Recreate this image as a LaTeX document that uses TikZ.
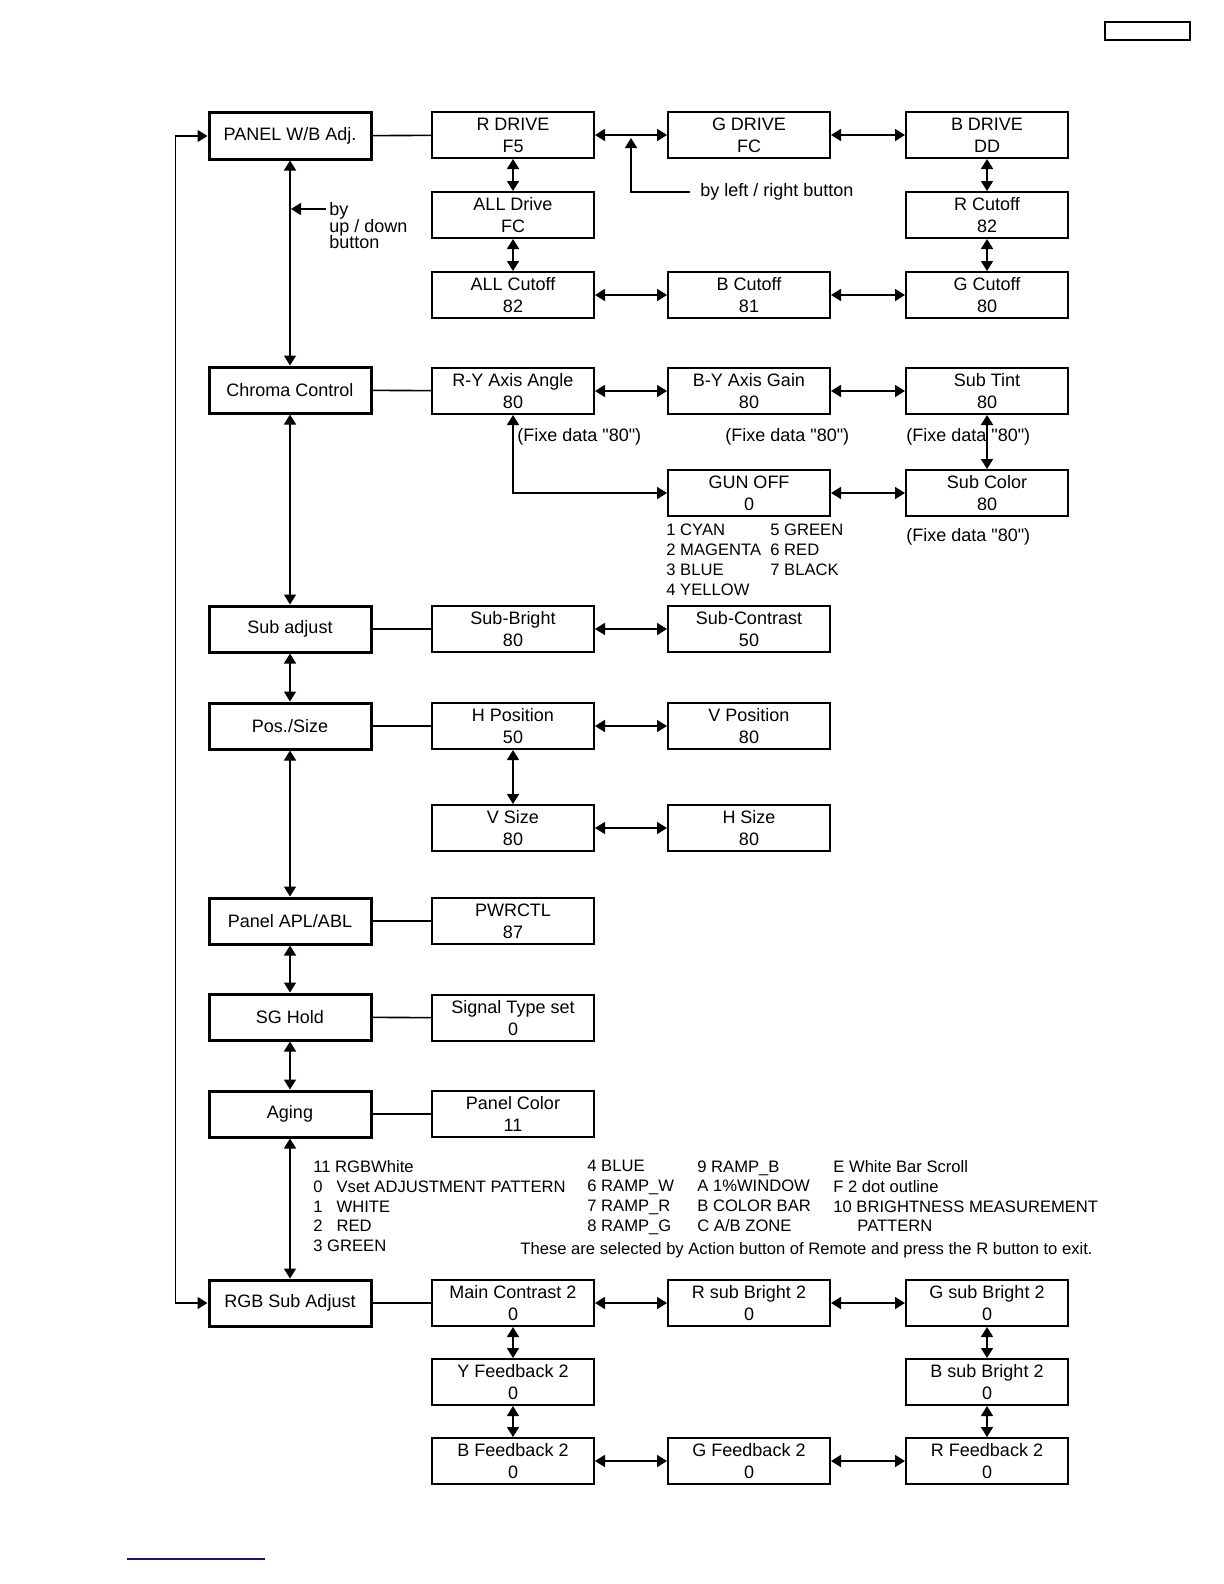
\documentclass[tikz,border=0pt]{standalone}
\usepackage{fontspec}
\setmainfont{Liberation Sans}
\usetikzlibrary{arrows.meta}
\definecolor{rulenavy}{RGB}{25,20,130}

\begin{document}
\begin{tikzpicture}[x=0.5pt,y=-0.5pt,
    mainbox/.style={draw,line width=1.5pt,minimum width=81pt,minimum height=23pt,inner sep=0pt,font=\fontsize{9}{11}\selectfont},
    subbox/.style={draw,line width=1pt,minimum width=81pt,minimum height=23pt,inner sep=0pt,align=center,font=\fontsize{9}{11}\selectfont},
    link/.style={line width=0.8pt},
    twoway/.style={line width=0.8pt,{Triangle[length=5pt,width=6pt]}-{Triangle[length=5pt,width=6pt]}},
    oneway/.style={line width=0.8pt,-{Triangle[length=5pt,width=6pt]}},
    note/.style={inner sep=0pt,align=left,font=\fontsize{8.3}{9.9}\selectfont},
    fixe/.style={inner sep=0pt,anchor=west,font=\fontsize{9}{11}\selectfont}]
    \useasboundingbox (0,0) rectangle (1224,1584);

    % Page marks
    \draw[line width=1pt] (1105,22) rectangle (1190,40);
    \draw[rulenavy,line width=1pt] (127,1559) -- (265,1559);

    % Main menu column
    \node[mainbox] (pwb) at (290,136) {PANEL W/B Adj.};
    \node[mainbox] (chroma) at (290,390) {Chroma Control};
    \node[mainbox] (subadj) at (290,629) {Sub adjust};
    \node[mainbox] (pos) at (290,726) {Pos./Size};
    \node[mainbox] (apl) at (290,921) {Panel APL/ABL};
    \node[mainbox] (sg) at (290,1017) {SG Hold};
    \node[mainbox] (aging) at (290,1114) {Aging};
    \node[mainbox] (rgb) at (290,1303) {RGB Sub Adjust};

    \draw[twoway] (pwb) -- (chroma);
    \draw[twoway] (chroma) -- (subadj);
    \draw[twoway] (subadj) -- (pos);
    \draw[twoway] (pos) -- (apl);
    \draw[twoway] (apl) -- (sg);
    \draw[twoway] (sg) -- (aging);
    \draw[twoway] (aging) -- (rgb);
    \draw[twoway] (pwb.west) -- ++(-32,0) |- (rgb.west);

    % up / down note
    \node[note,font={\fontsize{9}{8.3}\selectfont\lineskiplimit=-5pt},anchor=north west] (udnote) at (329,202) {by\\up / down\\button};
    \coordinate (udtail) at (326,209);
    \coordinate (udtip) at (291,209);
    \draw[oneway] (udtail) -- (udtip);

    % PANEL W/B Adj.
    \node[subbox] (rdrive) at (513,135) {R DRIVE\\F5};
    \node[subbox] (gdrive) at (749,135) {G DRIVE\\FC};
    \node[subbox] (bdrive) at (987,135) {B DRIVE\\DD};
    \node[subbox] (alldrive) at (513,215) {ALL Drive\\FC};
    \node[subbox] (rcut) at (987,215) {R Cutoff\\82};
    \node[subbox] (allcut) at (513,295) {ALL Cutoff\\82};
    \node[subbox] (bcut) at (749,295) {B Cutoff\\81};
    \node[subbox] (gcut) at (987,295) {G Cutoff\\80};

    \draw[link] (pwb) -- (rdrive);
    \draw[twoway] (rdrive) -- (gdrive);
    \draw[twoway] (gdrive) -- (bdrive);
    \draw[twoway] (rdrive) -- (alldrive);
    \draw[twoway] (alldrive) -- (allcut);
    \draw[twoway] (bdrive) -- (rcut);
    \draw[twoway] (rcut) -- (gcut);
    \draw[twoway] (allcut) -- (bcut);
    \draw[twoway] (bcut) -- (gcut);

    \node[fixe] (lrnote) at (700,192) {by left / right button};
    \coordinate (lrtip) at (631,138);
    \draw[oneway] ([xshift=-5pt]lrnote.west) -| (lrtip);

    % Chroma Control
    \node[subbox] (ry) at (513,391) {R-Y Axis Angle\\80};
    \node[subbox] (by) at (749,391) {B-Y Axis Gain\\80};
    \node[subbox] (tint) at (987,391) {Sub Tint\\80};
    \node[subbox] (gun) at (749,493) {GUN OFF\\0};
    \node[subbox] (subcol) at (987,493) {Sub Color\\80};

    \node[fixe] (fixry) at (517,437) {(Fixe data \textquotedbl 80\textquotedbl)};
    \node[fixe] (fixby) at (725,437) {(Fixe data \textquotedbl 80\textquotedbl)};
    \node[fixe] (fixtint) at (906,437) {(Fixe data \textquotedbl 80\textquotedbl)};
    \node[fixe] (fixcol) at (906,537) {(Fixe data \textquotedbl 80\textquotedbl)};

    \draw[link] (chroma) -- (ry);
    \draw[twoway] (ry) -- (by);
    \draw[twoway] (by) -- (tint);
    \draw[twoway] (tint) -- (subcol);
    \draw[twoway] (gun) -- (subcol);
    \draw[twoway] (ry.south) |- (gun.west);

    \node[note,anchor=north west] (gunlist) at (666,524) {1 CYAN\\2 MAGENTA\\3 BLUE\\4 YELLOW};
    \node[note,anchor=north west] (gunlistb) at (770,524) {5 GREEN\\6 RED\\7 BLACK};

    % Sub adjust
    \node[subbox] (bright) at (513,629) {Sub-Bright\\80};
    \node[subbox] (contrast) at (749,629) {Sub-Contrast\\50};
    \draw[link] (subadj) -- (bright);
    \draw[twoway] (bright) -- (contrast);

    % Pos./Size
    \node[subbox] (hpos) at (513,726) {H Position\\50};
    \node[subbox] (vpos) at (749,726) {V Position\\80};
    \node[subbox] (vsize) at (513,828) {V Size\\80};
    \node[subbox] (hsize) at (749,828) {H Size\\80};
    \draw[link] (pos) -- (hpos);
    \draw[twoway] (hpos) -- (vpos);
    \draw[twoway] (hpos) -- (vsize);
    \draw[twoway] (vsize) -- (hsize);

    % Panel APL/ABL, SG Hold, Aging
    \node[subbox] (pwrctl) at (513,921) {PWRCTL\\87};
    \node[subbox] (sigtype) at (513,1018) {Signal Type set\\0};
    \node[subbox] (pcolor) at (513,1114) {Panel Color\\11};
    \draw[link] (apl) -- (pwrctl);
    \draw[link] (sg) -- (sigtype);
    \draw[link] (aging) -- (pcolor);

    \node[note,anchor=north west] (patta) at (313,1160) {11 RGBWhite\\0\hspace{7pt}Vset ADJUSTMENT PATTERN\\1\hspace{7pt}WHITE\\2\hspace{7pt}RED\\3 GREEN};
    \node[note,anchor=north west] (pattb) at (587,1160) {4 BLUE\\6 RAMP\_W\\7 RAMP\_R\\8 RAMP\_G};
    \node[note,anchor=north west] (pattc) at (697,1160) {9 RAMP\_B\\A 1\%WINDOW\\B COLOR BAR\\C A/B ZONE};
    \node[note,anchor=north west] (pattd) at (833,1160) {E White Bar Scroll\\F 2 dot outline\\10 BRIGHTNESS MEASUREMENT\\\hspace{12pt}PATTERN};
    \node[note,anchor=east] (pattexit) at (1093,1250) {These are selected by Action button of Remote and press the R button to exit.};

    % RGB Sub Adjust
    \node[subbox] (mainc) at (513,1303) {Main Contrast 2\\0};
    \node[subbox] (rsb) at (749,1303) {R sub Bright 2\\0};
    \node[subbox] (gsb) at (987,1303) {G sub Bright 2\\0};
    \node[subbox] (yfb) at (513,1382) {Y Feedback 2\\0};
    \node[subbox] (bsb) at (987,1382) {B sub Bright 2\\0};
    \node[subbox] (bfb) at (513,1461) {B Feedback 2\\0};
    \node[subbox] (gfb) at (749,1461) {G Feedback 2\\0};
    \node[subbox] (rfb) at (987,1461) {R Feedback 2\\0};

    \draw[link] (rgb) -- (mainc);
    \draw[twoway] (mainc) -- (rsb);
    \draw[twoway] (rsb) -- (gsb);
    \draw[twoway] (gsb) -- (bsb);
    \draw[twoway] (bsb) -- (rfb);
    \draw[twoway] (mainc) -- (yfb);
    \draw[twoway] (yfb) -- (bfb);
    \draw[twoway] (bfb) -- (gfb);
    \draw[twoway] (gfb) -- (rfb);
\end{tikzpicture}
\end{document}
